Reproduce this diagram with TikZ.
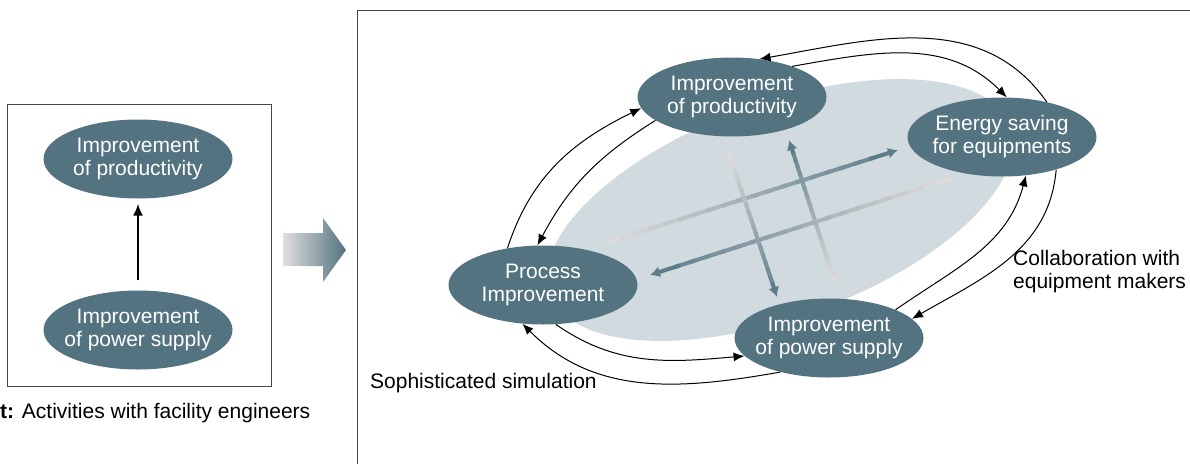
\documentclass[tikz,border=0pt]{standalone}
\usepackage{fontspec}
\setmainfont{Liberation Sans}
\usetikzlibrary{shapes.geometric,arrows.meta,calc}

\definecolor{slate}{RGB}{83,115,128}
\definecolor{slatearrow}{RGB}{92,124,138}
\definecolor{fadegray}{RGB}{226,222,222}
\definecolor{cloud}{RGB}{208,218,223}
\definecolor{frame}{RGB}{70,70,70}

% thick arrow whose colour fades out towards its tail
\newcommand{\fadearrow}[2]{%
  \foreach \k in {0,...,17}{%
    \pgfmathtruncatemacro{\mix}{5*\k+3}%
    \pgfmathsetmacro{\fa}{\k/20}%
    \pgfmathsetmacro{\fb}{(\k+1.4)/20}%
    \draw[line width=4pt, draw=slatearrow!\mix!fadegray]
      ($(#1)!\fa!(#2)$) -- ($(#1)!\fb!(#2)$);
  }%
  \draw[-{Latex[length=10pt,width=11pt]}, line width=4pt, slatearrow]
    ($(#1)!0.9!(#2)$) -- (#2);
}

\begin{document}
\begin{tikzpicture}[x=1pt,y=1pt,>={Latex[length=11pt,width=9pt]},
      main node/.style={ellipse,fill=slate,text=white,minimum width=189pt,minimum height=79pt,
        inner xsep=-8pt,inner ysep=0pt,align=center,font=\fontsize{21}{23}\selectfont},
      loop arrow/.style={->,line width=1pt},
      label text/.style={align=left,inner sep=0pt,font=\fontsize{21}{23}\selectfont}]

      \useasboundingbox (0,0) rectangle (1190,-463);

      % before
      \draw[frame, line width=0.9pt] (7,-104) rectangle (271,-386);
      \node[main node] (LP) at (138,-159) {Improvement\\of productivity};
      \node[main node] (LS) at (138,-330) {Improvement\\of power supply};
      \draw[->, line width=2pt, >={Latex[length=12pt,width=10pt]}, shorten <=10pt, shorten >=5pt] (LS) -- (LP);
      \node[label text, anchor=west] (past) at (0,-413) {\textbf{t:} Activities with facility engineers};

      \shade[left color=fadegray, right color=slate] (283,-233) -- (323,-233) -- (323,-218) -- (346,-250)
        -- (323,-282) -- (323,-266) -- (283,-266) -- cycle;

      % after
      \draw[frame, line width=0.9pt] (357,-470) -- (357,-10) -- (1200,-10);
      \fill[cloud, rotate around={20:(780,-210)}] (780,-210) ellipse [x radius=245, y radius=107];

      \node[main node] (PR) at (732,-97) {Improvement\\of productivity};
      \node[main node] (ES) at (1002,-137) {Energy saving\\for equipments};
      \node[main node] (PI) at (543,-285) {Process\\Improvement};
      \node[main node] (PS) at (829,-338) {Improvement\\of power supply};

      \coordinate (a1) at (605,-243); \coordinate (a2) at (898,-150);
      \coordinate (b1) at (952,-178); \coordinate (b2) at (650,-275);
      \coordinate (c1) at (729,-153); \coordinate (c2) at (777,-297);
      \coordinate (d1) at (835,-283); \coordinate (d2) at (789,-140);
      \fadearrow{a1}{a2}
      \fadearrow{b1}{b2}
      \fadearrow{c1}{c2}
      \fadearrow{d1}{d2}

      \draw[loop arrow] (ES.38) to[out=125,in=10] (PR.54);
      \draw[loop arrow] (PR.27) to[out=10,in=135] (ES.83);
      \draw[loop arrow] (ES.-31) to[out=-95,in=30] (PS.13);
      \draw[loop arrow] (PS.23) to[out=35,in=-105] (ES.-58);
      \draw[loop arrow] (PS.215) to[out=190,in=-45] (PI.242);
      \draw[loop arrow] (PI.-72) to[out=-35,in=185] (PS.192);
      \draw[loop arrow] (PI.134) to[out=72,in=206] (PR.187);
      \draw[loop arrow] (PR.197) to[out=212,in=62] (PI.98);

      \node[label text, anchor=west] (sim) at (370,-383) {Sophisticated simulation};
      \node[label text, anchor=west] (collab) at (1013,-272) {Collaboration with\\equipment makers};
    \end{tikzpicture}
\end{document}
